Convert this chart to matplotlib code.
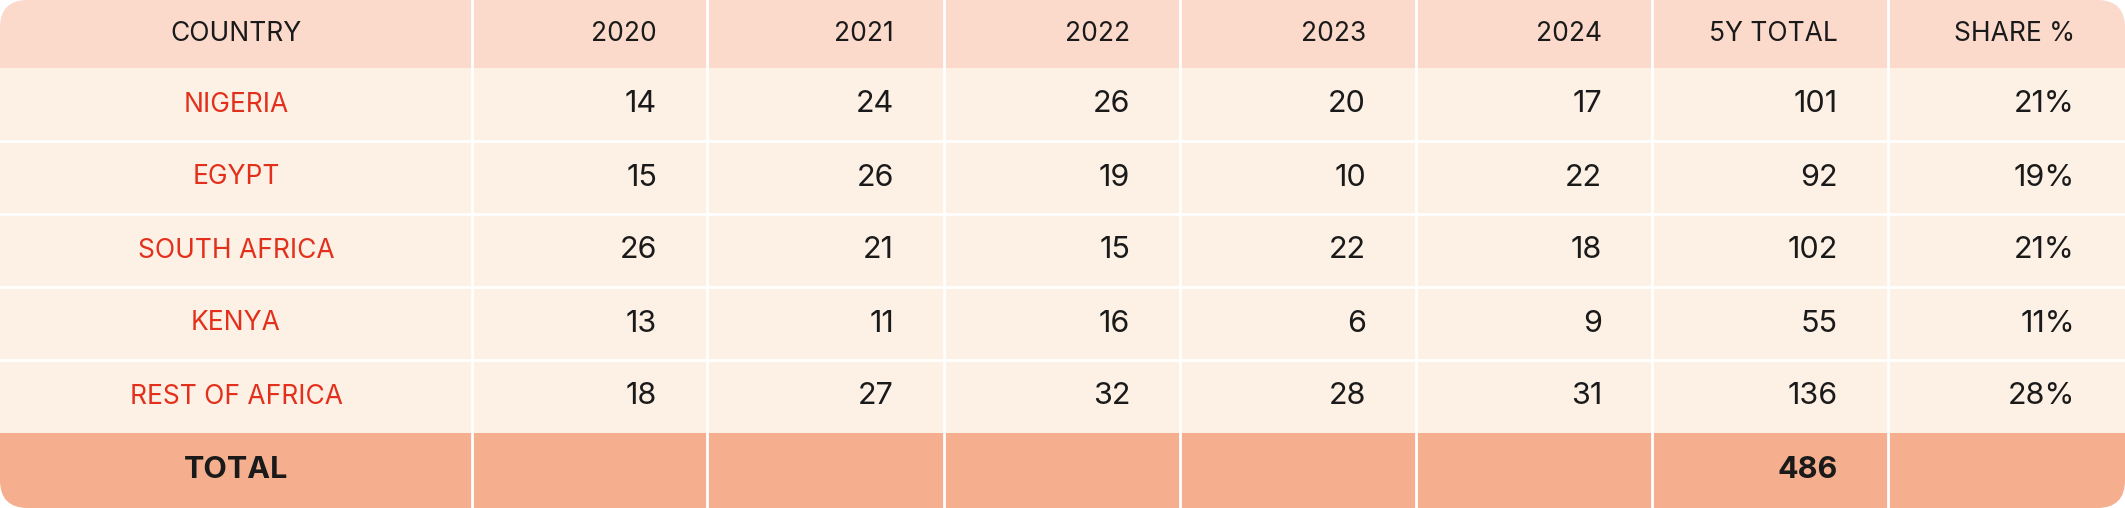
import matplotlib.pyplot as plt
from matplotlib.patches import FancyBboxPatch, Rectangle

countries = ['NIGERIA', 'EGYPT', 'SOUTH AFRICA', 'KENYA', 'REST OF AFRICA']
years = ['2020', '2021', '2022', '2023', '2024']
values = [
    [14, 24, 26, 20, 17],
    [15, 26, 19, 10, 22],
    [26, 21, 15, 22, 18],
    [13, 11, 16, 6, 9],
    [18, 27, 32, 28, 31],
]
headers = ['COUNTRY'] + years + ['5Y TOTAL', 'SHARE %']

totals = [sum(r) for r in values]
grand = sum(totals)
shares = [round(100 * t / grand) for t in totals]

W, H = 2125, 508
col_edges = [0, 472, 707, 944, 1180, 1416, 1652, 1888, W]
row_edges = [0, 68, 141, 214, 287, 360, 433, H]

plt.rcParams['font.family'] = ['Inter', 'DejaVu Sans']
fig = plt.figure(figsize=(W / 100, H / 100), dpi=100)
ax = fig.add_axes([0, 0, 1, 1])
ax.set_xlim(0, W)
ax.set_ylim(H, 0)
ax.axis('off')

head_c, row_c, tot_c = '#FBD9CB', '#FDF0E5', '#F5AE8E'
red, dark = '#E2301C', '#1A1A1A'

# rounded background (clip region)
bg = FancyBboxPatch((0, 0), W, H, boxstyle='round,pad=0,rounding_size=28',
                    fc=row_c, ec='none')
ax.add_patch(bg)
for i in range(len(row_edges) - 1):
    c = head_c if i == 0 else (tot_c if i == len(row_edges) - 2 else row_c)
    r = Rectangle((0, row_edges[i]), W, row_edges[i + 1] - row_edges[i], fc=c, ec='none')
    ax.add_patch(r)
    r.set_clip_path(bg)
for x in col_edges[1:-1]:
    ax.plot([x, x], [0, H], color='white', lw=2)
for y in row_edges[2:-2]:
    ax.plot([0, W], [y, y], color='white', lw=2)

def cy(i):
    return (row_edges[i] + row_edges[i + 1]) / 2

pad = 50
for j, h in enumerate(headers):
    if j == 0:
        ax.text(236, cy(0), h, ha='center', va='center', fontsize=19, color=dark)
    else:
        ax.text(col_edges[j + 1] - pad, cy(0), h, ha='right', va='center', fontsize=19, color=dark)

for i, c in enumerate(countries):
    ax.text(236, cy(i + 1), c, ha='center', va='center', fontsize=19, color=red)
    cells = values[i] + [totals[i]] + [f'{shares[i]}%']
    for j, v in enumerate(cells):
        ax.text(col_edges[j + 2] - pad, cy(i + 1), str(v), ha='right', va='center',
                fontsize=22, color=dark)

ax.text(236, cy(6), 'TOTAL', ha='center', va='center', fontsize=22, color=dark, weight='bold')
ax.text(col_edges[7] - pad, cy(6), str(grand), ha='right', va='center', fontsize=22,
        color=dark, weight='bold')

fig.savefig('out.png', dpi=100)
